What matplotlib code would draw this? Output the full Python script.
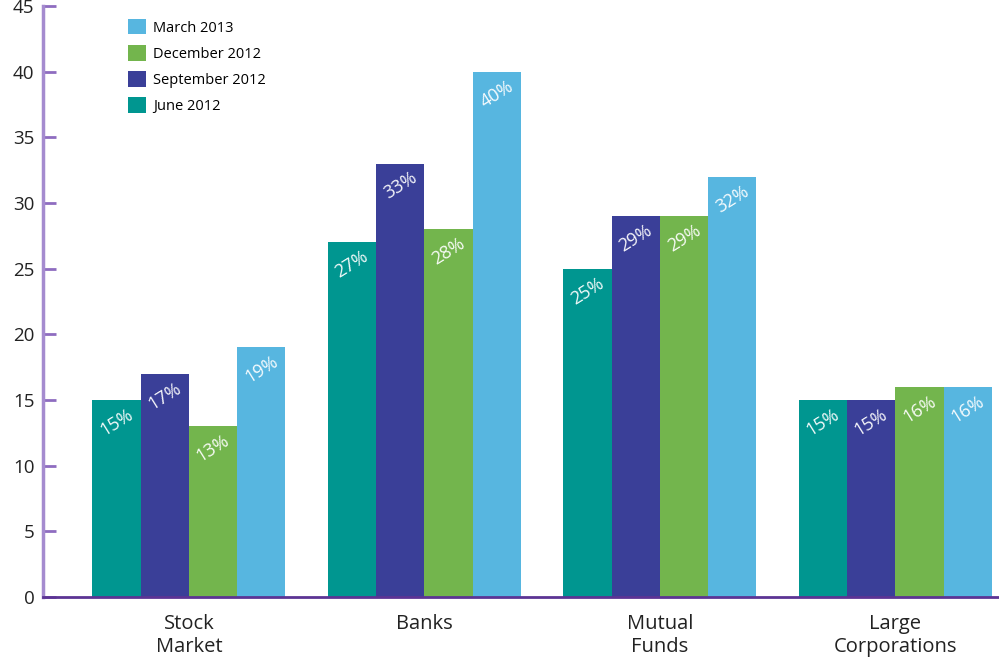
import numpy as np
from matplotlib import pyplot as plt

plt.rcParams['font.family'] = ['Open Sans', 'DejaVu Sans']

# survey values, percent
categories = ['Stock\nMarket', 'Banks', 'Mutual\nFunds', 'Large\nCorporations']
periods = ['June 2012', 'September 2012', 'December 2012', 'March 2013']
values = {
    'June 2012':      [15, 27, 25, 15],
    'September 2012': [17, 33, 29, 15],
    'December 2012':  [13, 28, 29, 16],
    'March 2013':     [19, 40, 32, 16],
}
colors = {
    'June 2012': '#009690',
    'September 2012': '#3a3f98',
    'December 2012': '#73b54d',
    'March 2013': '#57b6e0',
}
yticks = list(range(0, 50, 5))

fig = plt.figure(figsize=(9.99, 6.6), dpi=100)
ax = fig.add_axes([0.043, 0.0955, 0.957, 0.8955])

x = np.arange(len(categories))
w = 0.205
handles = {}
for i, p in enumerate(periods):
    pos = x + (i - 1.5) * w
    bars = ax.bar(pos, values[p], width=w, color=colors[p], label=p, linewidth=0)
    handles[p] = bars
    for xi, v in zip(pos, values[p]):
        ax.text(xi, v - 1.7, f'{v}%', color='white', fontsize=13,
                rotation=32, ha='center', va='center', alpha=0.95)

ax.set_xlim(-0.62, 3.44)
ax.set_ylim(0, 45)
ax.set_yticks(yticks)
ax.set_xticks(x)
ax.set_xticklabels(categories, fontsize=14.5, color='#222222', linespacing=1.25)
ax.tick_params(axis='x', length=0, pad=12)
ax.tick_params(axis='y', direction='in', length=9, width=2, color='#8e6cc0',
               labelsize=13.5, labelcolor='#222222', pad=6)

for s in ['top', 'right']:
    ax.spines[s].set_visible(False)
ax.spines['left'].set_color('#a58bcf')
ax.spines['left'].set_linewidth(2.5)
ax.spines['bottom'].set_color('#5c3494')
ax.spines['bottom'].set_linewidth(2)

order = ['March 2013', 'December 2012', 'September 2012', 'June 2012']
ax.legend([handles[p] for p in order], order, loc='upper left',
          bbox_to_anchor=(0.075, 1.0), frameon=False, fontsize=10.5,
          handlelength=1.25, handleheight=1.25, handletextpad=0.5,
          labelspacing=0.65)

fig.savefig('out.png', dpi=100)
